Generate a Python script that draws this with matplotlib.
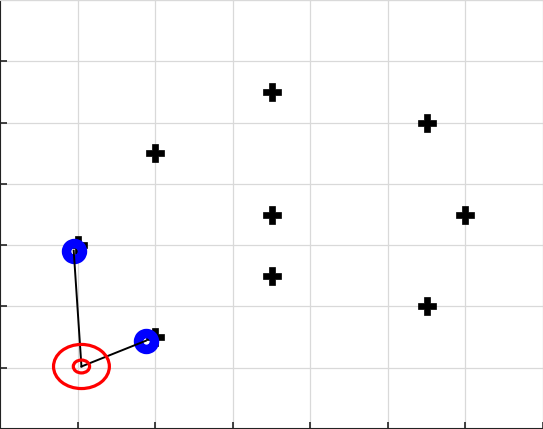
import matplotlib
matplotlib.use("Agg")
import matplotlib.pyplot as plt
from matplotlib.patches import Ellipse

# data
obs_x = [1.0, 2.0, 2.0, 3.5, 3.5, 3.5, 5.5, 5.5, 6.0]
obs_y = [3.0, 1.5, 4.5, 5.5, 3.5, 2.5, 5.0, 2.0, 3.5]
est_x = [0.95, 1.88]
est_y = [2.91, 1.44]
robot_x = 1.05
robot_y = 1.02
outer_r = 0.36
inner_r = 0.105
ticks = [0, 1, 2, 3, 4, 5, 6, 7]

fig = plt.figure(figsize=(5.43, 4.29), dpi=100)
ax = fig.add_axes([0, 0, 1, 1])
ax.set_xlim(0, 7)
ax.set_ylim(0, 7)
ax.set_xticks(ticks)
ax.set_yticks(ticks)
ax.set_xticklabels([])
ax.set_yticklabels([])
ax.grid(True, color="#d9d9d9", lw=0.9, zorder=0)
ax.set_axisbelow(True)
ax.tick_params(direction="in", length=5, width=1.2, colors="#222222")
for s in ["top", "right"]:
    ax.spines[s].set_color("#d9d9d9")
for s in ["left", "bottom"]:
    ax.spines[s].set_color("#222222")
    ax.spines[s].set_linewidth(1.5)

ax.plot(obs_x, obs_y, "P", color="black", markersize=12.5, markeredgewidth=0.5, zorder=3)
ax.plot(est_x, est_y, "o", markerfacecolor="none", markeredgecolor="blue",
        markersize=11.5, markeredgewidth=6.8, zorder=4)
for ex, ey in zip(est_x, est_y):
    ax.plot([robot_x, ex], [robot_y, ey], color="black", lw=1.4, zorder=5)
for r in (outer_r, inner_r):
    ax.add_patch(Ellipse((robot_x, robot_y), 2 * r, 2 * r, fill=False,
                         edgecolor="red", lw=2.3, zorder=6))

fig.savefig("out.png", dpi=100)
